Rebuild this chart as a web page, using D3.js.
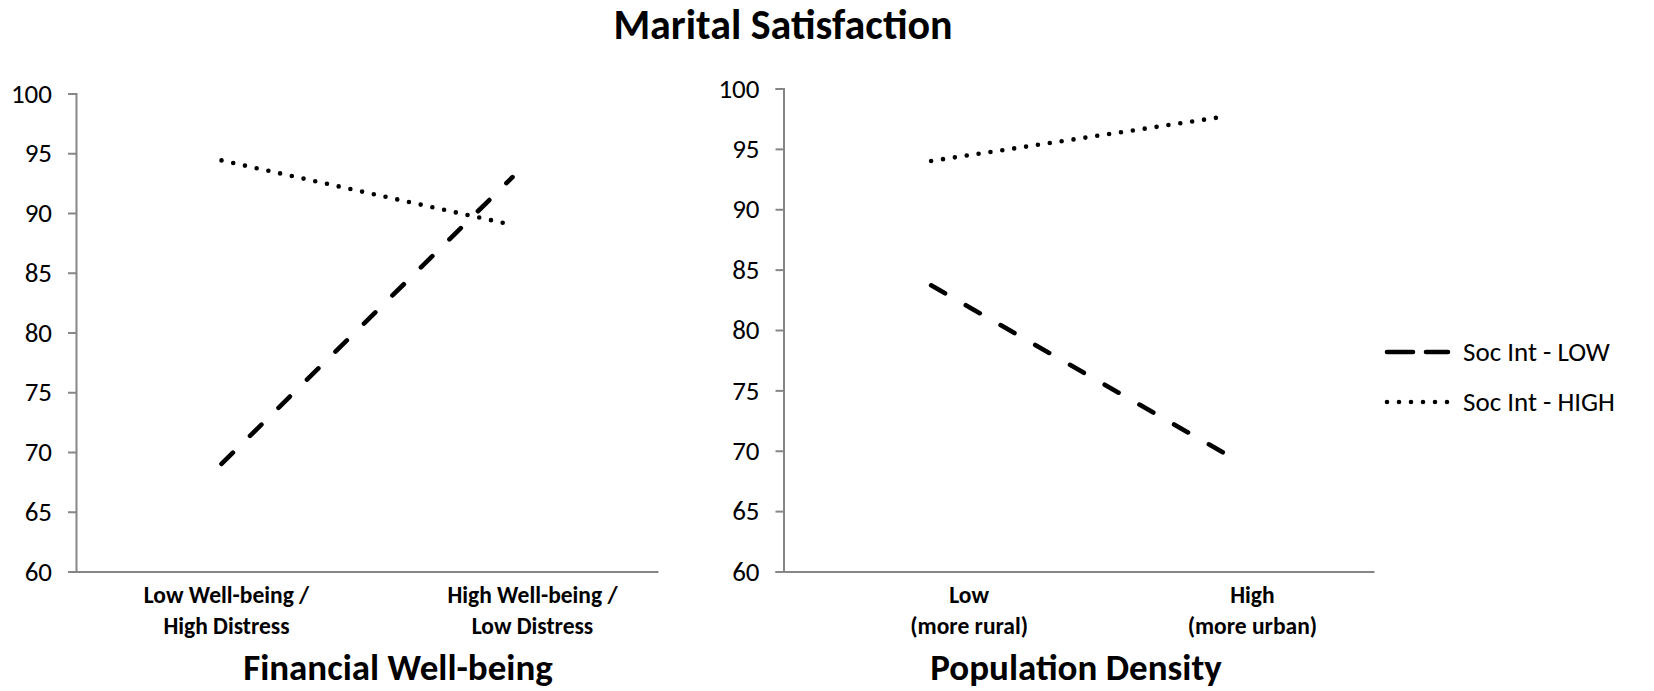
<!DOCTYPE html>
<html>
<head>
<meta charset="utf-8">
<script src="https://cdn.jsdelivr.net/npm/d3@7"></script>
<style>
  html, body { margin: 0; padding: 0; background: #fff; }
  svg { display: block; }
  text { font-family: Calibri, Carlito, Lato, "Open Sans", sans-serif; fill: #000; }
</style>
</head>
<body>
<svg id="chart" width="1654" height="691"></svg>
<script>
// ---- data ----
const chartTitle = "Marital Satisfaction";
const seriesNames = ["Soc Int - LOW", "Soc Int - HIGH"];
const yTicks = [60, 65, 70, 75, 80, 85, 90, 95, 100];

const finTitle = "Financial Well-being";
const finCategories = [["Low Well-being /", "High Distress"], ["High Well-being /", "Low Distress"]];
const finLow = [69.0, 93.0];
const finHigh = [94.4, 89.0];

const popTitle = "Population Density";
const popCategories = [["Low", "(more rural)"], ["High", "(more urban)"]];
const popLow = [83.7, 69.7];
const popHigh = [94.0, 97.7];

// ---- styles ----
const axisColor = "#868686";
const dashLow = "16,24";
const dotHigh = "0,12";
const lineW = 4.6;

const svg = d3.select("#chart");
svg.append("rect").attr("width", 1654).attr("height", 691).attr("fill", "#fff");

svg.append("text")
  .attr("x", 783).attr("y", 39)
  .attr("text-anchor", "middle")
  .attr("font-weight", "bold")
  .attr("font-size", 42)
  .text(chartTitle);

function panel(cfg) {
  const g = svg.append("g");
  const x = d3.scalePoint().domain(d3.range(cfg.categories.length)).range([cfg.x0, cfg.x1]).padding(0.5);
  const y = d3.scaleLinear().domain([60, 100]).range([cfg.yBottom, cfg.yTop]);

  const ya = g.append("g").attr("transform", `translate(${cfg.x0},0)`)
    .call(d3.axisLeft(y).tickValues(yTicks).tickSize(8).tickSizeOuter(8).tickPadding(16));
  ya.select(".domain").attr("stroke", axisColor).attr("stroke-width", 2);
  ya.selectAll(".tick line").attr("stroke", axisColor).attr("stroke-width", 2);
  ya.selectAll(".tick text").attr("font-size", 27).attr("fill", "#000")
    .style("font-family", "Calibri, Carlito, Lato, sans-serif");

  const xa = g.append("g").attr("transform", `translate(0,${cfg.yBottom})`)
    .call(d3.axisBottom(x).tickSize(0).tickSizeOuter(0).tickFormat(""));
  xa.select(".domain").attr("stroke", axisColor).attr("stroke-width", 2);

  // category labels
  cfg.categories.forEach((lines, i) => {
    const t = g.append("text")
      .attr("text-anchor", "middle")
      .attr("font-weight", "bold")
      .attr("font-size", 23.5);
    lines.forEach((s, j) => {
      t.append("tspan").attr("x", x(i) + cfg.labelDx[i]).attr("y", cfg.yBottom + 31 + j * 31).text(s);
    });
  });

  g.append("text")
    .attr("x", cfg.titleX).attr("y", 680)
    .attr("text-anchor", "middle")
    .attr("font-weight", "bold")
    .attr("font-size", 37)
    .text(cfg.title);

  const line = d3.line().x((d, i) => x(i)).y(d => y(d));
  g.append("path").datum(cfg.high).attr("d", line)
    .attr("fill", "none").attr("stroke", "#000").attr("stroke-width", lineW)
    .attr("stroke-linecap", "round").attr("stroke-dasharray", dotHigh);
  g.append("path").datum(cfg.low).attr("d", line)
    .attr("fill", "none").attr("stroke", "#000").attr("stroke-width", lineW)
    .attr("stroke-linecap", "round").attr("stroke-dasharray", dashLow);
}

panel({ x0: 76, x1: 658, yTop: 93.5, yBottom: 571.5, categories: finCategories,
        low: finLow, high: finHigh, title: finTitle, titleX: 398, labelDx: [5, 20] });
panel({ x0: 783.5, x1: 1374, yTop: 88.5, yBottom: 571.5, categories: popCategories,
        low: popLow, high: popHigh, title: popTitle, titleX: 1076, labelDx: [38, 26] });

// legend
const legend = svg.append("g");
const legendY = [352, 402];
seriesNames.forEach((name, i) => {
  legend.append("line")
    .attr("x1", 1387).attr("x2", 1448).attr("y1", legendY[i]).attr("y2", legendY[i])
    .attr("stroke", "#000").attr("stroke-width", lineW).attr("stroke-linecap", "round")
    .attr("stroke-dasharray", i === 0 ? "26,13" : dotHigh);
  legend.append("text")
    .attr("x", 1463).attr("y", legendY[i]).attr("dy", "0.35em")
    .attr("font-size", 27)
    .text(name);
});
</script>
</body>
</html>
